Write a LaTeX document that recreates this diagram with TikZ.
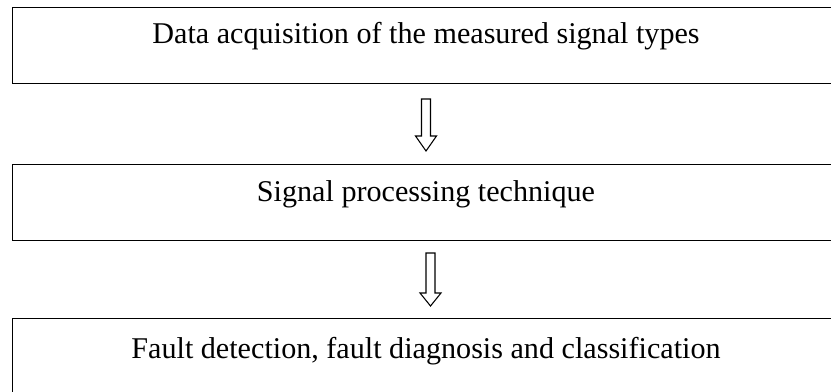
\documentclass[tikz,border=0pt]{standalone}
\usepackage{fontspec}
\setmainfont{Liberation Serif}
\usetikzlibrary{calc}
\begin{document}
\begin{tikzpicture}[x=0.75pt,y=-0.75pt,
  stagebox/.style={draw=black,line width=1.1pt,minimum width=829*0.75pt,
    minimum height=76*0.75pt,inner sep=0pt,anchor=north west},
  stagetext/.style={font=\fontsize{22.6}{27}\selectfont,anchor=base,inner sep=0pt},
  flowarrow/.style={draw=black,line width=0.8pt,fill=white}]
  \useasboundingbox (0,0) rectangle (831,392);
  \clip (0,0) rectangle (831,392);

  % the three stages
  \node[stagebox] (acq)  at (12,7)   {};
  \node[stagebox] (proc) at (12,164) {};
  \node[stagebox] (diag) at (12,318) {};

  \node[stagetext] (acqtxt)  at (426,44) {Data acquisition of the measured signal types};
  \node[stagetext] (proctxt) at (426,201)  {Signal processing technique};
  \node[stagetext] (diagtxt) at (426,358)  {Fault detection, fault diagnosis and classification};

  % hollow block arrows between stages
  \coordinate (a1) at (421.5,99);
  \coordinate (a2) at (426,253);
  \draw[flowarrow] (a1) -- ++(9,0) -- ++(0,37) -- ++(6,0) -- ++(-10.5,15)
    -- ++(-10.5,-15) -- ++(6,0) -- cycle;
  \draw[flowarrow] (a2) -- ++(9,0) -- ++(0,40) -- ++(6,0) -- ++(-10.5,13)
    -- ++(-10.5,-13) -- ++(6,0) -- cycle;
\end{tikzpicture}
\end{document}
